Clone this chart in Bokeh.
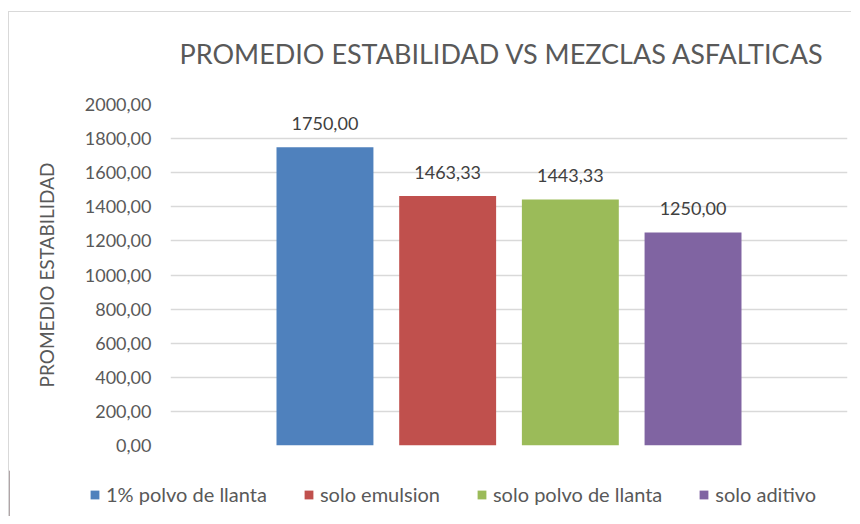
from bokeh.plotting import figure
from bokeh.models import Range1d, Legend, LegendItem, ColumnDataSource, Label
from bokeh.layouts import column
from bokeh.core.properties import value
from bokeh.embed import file_html
from bokeh.resources import INLINE

series = ["1% polvo de llanta", "solo emulsion", "solo polvo de llanta", "solo aditivo"]
values = [1750.00, 1463.33, 1443.33, 1250.00]
colors = ["#4F81BD", "#C0504D", "#9BBB59", "#8064A2"]
y_ticks = [0, 200, 400, 600, 800, 1000, 1200, 1400, 1600, 1800, 2000]
y_tick_labels = ["0,00", "200,00", "400,00", "600,00", "800,00", "1000,00",
                 "1200,00", "1400,00", "1600,00", "1800,00", "2000,00"]
title_text = "PROMEDIO ESTABILIDAD VS MEZCLAS ASFALTICAS"
y_title = "PROMEDIO ESTABILIDAD"

FONT = "Lato"
GREY = "#595959"
W = 842


def bare(fig):
    fig.outline_line_color = None
    fig.xgrid.visible = False
    fig.ygrid.visible = False
    fig.frame_align = False
    fig.border_fill_color = "white"
    return fig


idx = list(range(len(series)))
labels = [f"{v:.2f}".replace(".", ",") for v in values]

# ---- header (chart title) ----
hd = bare(figure(width=W, height=78, output_backend="svg", toolbar_location=None,
                 x_range=Range1d(0, 1), y_range=Range1d(0, 1),
                 min_border_left=0, min_border_right=0, min_border_top=0, min_border_bottom=0,
                 x_axis_type=None, y_axis_type=None))
hd.add_layout(Label(x=492.5, y=37, x_units="screen", y_units="screen", text=title_text,
                    text_align="center", text_baseline="alphabetic",
                    text_font=FONT, text_font_size="27px", text_color=GREY))

# ---- main chart ----
p = figure(width=W, height=380, output_backend="svg", toolbar_location=None,
           x_range=Range1d(-1.259, len(series) - 1 + 1.259),
           y_range=Range1d(0, 2000),
           min_border_left=161, min_border_right=4, min_border_top=14, min_border_bottom=25)
p.outline_line_color = None
p.background_fill_color = "white"
p.border_fill_color = "white"
p.frame_align = False

p.xaxis.visible = False
p.xgrid.visible = False

ya = p.yaxis[0]
ya.ticker = y_ticks
ya.major_label_overrides = {t: l for t, l in zip(y_ticks, y_tick_labels)}
ya.axis_line_color = None
ya.major_tick_line_color = None
ya.minor_tick_line_color = None
ya.major_tick_out = 0
ya.major_tick_in = 0
ya.major_label_standoff = 19
ya.major_label_text_font = FONT
ya.major_label_text_font_size = "18px"
ya.major_label_text_color = GREY
ya.axis_label = y_title
ya.axis_label_text_font = FONT
ya.axis_label_text_font_size = "19px"
ya.axis_label_text_font_style = "normal"
ya.axis_label_text_color = GREY
ya.axis_label_standoff = 24

p.ygrid.grid_line_color = "#d9d9d9"
p.ygrid.grid_line_width = 1.5

src = ColumnDataSource(dict(x=idx, top=values, label=labels))
for i in idx:
    p.vbar(x=[idx[i]], top=[values[i]], width=0.79, fill_color=colors[i], line_color=None)

p.text(x="x", y="top", text="label", source=src, text_align="center", text_baseline="alphabetic",
       y_offset=-24, text_font=value(FONT), text_font_size="18px", text_color="#404040")

# ---- legend strip below the chart (same series / colours) ----
lg = bare(figure(width=W, height=46, output_backend="svg", toolbar_location=None,
                 x_range=Range1d(0, 1), y_range=Range1d(0, 1),
                 min_border_left=0, min_border_right=0, min_border_top=0, min_border_bottom=0,
                 x_axis_type=None, y_axis_type=None))
lg_renderers = [lg.vbar(x=[-10], top=[1], width=0.5, fill_color=colors[i], line_color=None) for i in idx]

legend = Legend(items=[LegendItem(label=series[i], renderers=[lg_renderers[i]]) for i in idx],
                orientation="horizontal", location=(80, 10),
                glyph_width=11, glyph_height=11, label_standoff=6, spacing=36, padding=0,
                margin=0, border_line_color=None, background_fill_alpha=0,
                label_text_font=FONT, label_text_font_size="20px", label_text_color=GREY)
lg.add_layout(legend, "center")

layout = column(hd, p, lg, spacing=0,
                styles={"border-left": "1px solid #d9d9d9", "border-top": "1px solid #d9d9d9",
                        "margin-top": "11px", "margin-left": "8px"})

open("out.html", "w").write(file_html(layout, INLINE))
